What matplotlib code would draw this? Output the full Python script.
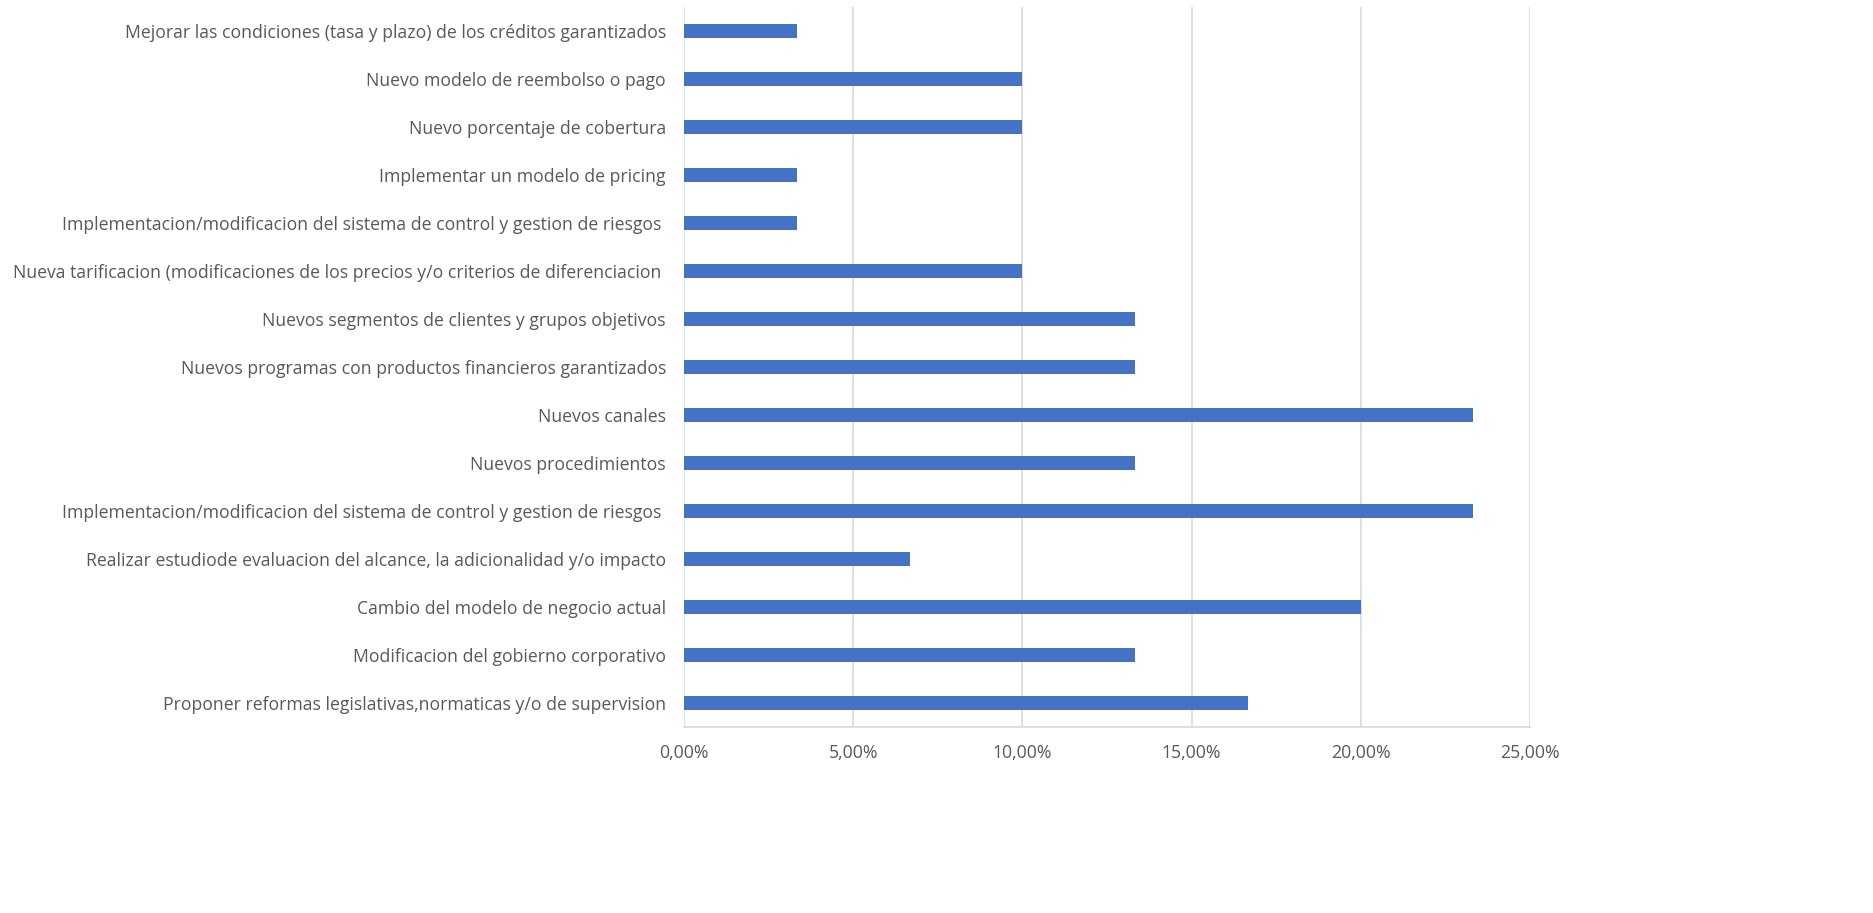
import matplotlib.pyplot as plt
from matplotlib.ticker import FuncFormatter

categorias = [
    "Proponer reformas legislativas,normaticas y/o de supervision",
    "Modificacion del gobierno corporativo",
    "Cambio del modelo de negocio actual",
    "Realizar estudiode evaluacion del alcance, la adicionalidad y/o impacto",
    "Implementacion/modificacion del sistema de control y gestion de riesgos ",
    "Nuevos procedimientos",
    "Nuevos canales",
    "Nuevos programas con productos financieros garantizados",
    "Nuevos segmentos de clientes y grupos objetivos",
    "Nueva tarificacion (modificaciones de los precios y/o criterios de diferenciacion ",
    "Implementacion/modificacion del sistema de control y gestion de riesgos ",
    "Implementar un modelo de pricing",
    "Nuevo porcentaje de cobertura",
    "Nuevo modelo de reembolso o pago",
    "Mejorar las condiciones (tasa y plazo) de los créditos garantizados",
]
valores = [0.1667, 0.1333, 0.20, 0.0667, 0.2333, 0.1333, 0.2333, 0.1333,
           0.1333, 0.10, 0.0333, 0.0333, 0.10, 0.10, 0.0333]
ticks_x = [0, 0.05, 0.10, 0.15, 0.20, 0.25]

plt.rcParams['font.family'] = ['Open Sans', 'DejaVu Sans']

fig = plt.figure(figsize=(18.73, 9.13), dpi=100)
ax = fig.add_axes([684 / 1873, 1 - 727 / 913, (1530 - 684) / 1873, 720 / 913])

pos = list(range(len(categorias)))
ax.barh(pos, valores, height=0.31, color='#4472C4', zorder=3)

ax.set_xlim(0, 0.25)
ax.set_ylim(-0.5, len(categorias) - 0.5)
ax.set_xticks(ticks_x)
ax.xaxis.set_major_formatter(FuncFormatter(lambda v, p: f"{v * 100:.2f}%".replace('.', ',')))
ax.set_yticks(pos)
ax.set_yticklabels(categorias)

ax.grid(axis='x', color='#D9D9D9', linewidth=1.2, zorder=0)
for s in ['top', 'right', 'left']:
    ax.spines[s].set_visible(False)
ax.spines['bottom'].set_color('#D9D9D9')
ax.spines['bottom'].set_linewidth(1.2)
ax.tick_params(axis='both', length=0, labelsize=12.7, colors='#595959', pad=12)
ax.tick_params(axis='y', pad=13)

fig.savefig('out.png', dpi=100)
